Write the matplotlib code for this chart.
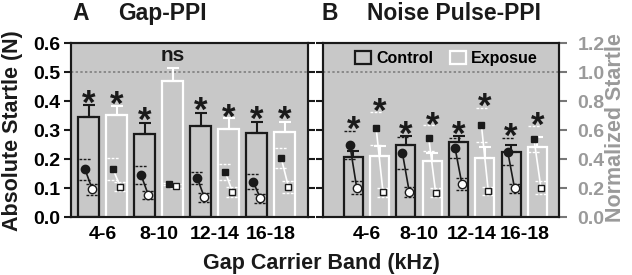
import matplotlib
matplotlib.use("Agg")
import matplotlib.pyplot as plt
import numpy as np
from matplotlib.patches import Patch

plt.rcParams["font.family"] = ["Liberation Sans", "DejaVu Sans"]
plt.rcParams["font.weight"] = "bold"

BG = "#c8c8c8"
DARK = "#1a1a1a"
GREY_TXT = "#9a9a9a"

bands = ["4-6", "8-10", "12-14", "16-18"]

# bars go control, exposure for each band
# absolute startle (N)
gap_abs = [0.347, 0.354, 0.288, 0.470, 0.314, 0.303, 0.291, 0.294]
gap_abs_err = [0.040, 0.031, 0.038, 0.046, 0.045, 0.038, 0.039, 0.036]
noise_abs = [0.209, 0.212, 0.249, 0.194, 0.259, 0.206, 0.224, 0.243]
noise_abs_err = [0.021, 0.034, 0.031, 0.029, 0.021, 0.037, 0.025, 0.033]

# normalized startle, pre (filled) and post (open) markers
gap_pre = [0.331, 0.332, 0.292, 0.230, 0.273, 0.315, 0.246, 0.411]
gap_pre_err = [0.074, 0.075, 0.060, 0.010, 0.040, 0.055, 0.050, 0.070]
gap_post = [0.193, 0.211, 0.154, 0.216, 0.138, 0.177, 0.131, 0.211]
gap_post_err = [0.040, 0.031, 0.030, 0.015, 0.030, 0.035, 0.033, 0.040]
noise_pre = [0.499, 0.614, 0.441, 0.545, 0.476, 0.636, 0.452, 0.538]
noise_pre_err = [0.095, 0.114, 0.110, 0.090, 0.070, 0.115, 0.093, 0.090]
noise_post = [0.204, 0.172, 0.172, 0.170, 0.228, 0.181, 0.200, 0.204]
noise_post_err = [0.043, 0.030, 0.035, 0.030, 0.040, 0.030, 0.030, 0.046]

gap_sig = ["*", "*", "*", "ns", "*", "*", "*", "*"]
gap_sig_y = [0.426, 0.422, 0.367, 0.556, 0.402, 0.377, 0.370, 0.370]
noise_sig = ["*"] * 8
noise_sig_y = [0.336, 0.399, 0.318, 0.349, 0.318, 0.416, 0.312, 0.349]

fig = plt.figure(figsize=(6.32, 2.75), dpi=100)
axL = fig.add_axes([71 / 632, 57.7 / 275, 237.3 / 632, 174 / 275])
axR = fig.add_axes([323.3 / 632, 57.7 / 275, 236 / 632, 174 / 275])


def panel(ax, absv, abserr, pre, pre_err, post, post_err, sig, sig_y, xlim, width):
    x = np.arange(len(absv))
    ctrl = x % 2 == 0
    cols = [DARK if c else "white" for c in ctrl]
    absv = np.array(absv)
    abserr = np.array(abserr)

    ax.set_facecolor(BG)
    ax.axhline(0.5, color="#8a8a8a", ls=(0, (1.2, 1.2)), lw=1.4, zorder=1)
    ax.bar(x, absv, width, facecolor="none", edgecolor=cols, lw=1.6, zorder=2)
    for sel, c in ((ctrl, DARK), (~ctrl, "white")):
        ax.errorbar(x[sel], absv[sel], yerr=[np.zeros(sel.sum()), abserr[sel]],
                    fmt="none", ecolor=c, elinewidth=1.5, capsize=4,
                    capthick=1.5, zorder=3)
    for i in x:
        if sig[i] == "*":
            ax.annotate("*", (i, sig_y[i]), xytext=(0, -14.5),
                        textcoords="offset points", ha="center", va="baseline",
                        fontsize=25, color=DARK)
        else:
            ax.annotate(sig[i], (i, sig_y[i]), xytext=(0, -3.8),
                        textcoords="offset points", ha="center", va="baseline",
                        fontsize=15, color=DARK)
    ax.set_xlim(*xlim)
    ax.set_ylim(0, 0.6)
    ax.set_xticks(x[::2] + 0.5)
    ax.set_xticklabels(bands)
    ax.tick_params(axis="x", length=0, labelsize=14, pad=6)
    ax.set_yticks(np.arange(0, 0.61, 0.1))
    ax.set_yticklabels([f"{v:.1f}" for v in np.arange(0, 0.61, 0.1)])
    ax.tick_params(axis="y", direction="out", length=5, width=1.5,
                   labelsize=14, pad=3, color=DARK)

    tw = ax.twinx()
    tw.set_ylim(0, 1.2)
    for i in x:
        c = cols[i]
        xa, xb = i - 0.13, i + 0.13
        tw.plot([xa, xb], [pre[i], post[i]], color=c, lw=1.2, zorder=2)
        for xx, yy, ee in ((xa, pre[i], pre_err[i]), (xb, post[i], post_err[i])):
            tw.hlines([yy - ee, yy + ee], xx - 0.22, xx + 0.22, colors=c, lw=1,
                      linestyles=(0, (2, 1)), zorder=1)
        mk = "o" if ctrl[i] else "s"
        ms = 6 if ctrl[i] else 5
        tw.plot(xa, pre[i], marker=mk, ms=ms, mfc=DARK, mec=DARK, zorder=4)
        tw.plot(xb, post[i], marker=mk, ms=ms, mfc="white", mec=DARK, mew=1,
                zorder=4)
    tw.set_yticks(np.arange(0, 1.21, 0.2))
    tw.set_yticklabels([f"{v:.1f}" for v in np.arange(0, 1.21, 0.2)])
    for a in (ax, tw):
        for s in a.spines.values():
            s.set_linewidth(1.5)
            s.set_color(DARK)
    return tw


twL = panel(axL, gap_abs, gap_abs_err, gap_pre, gap_pre_err, gap_post,
            gap_post_err, gap_sig, gap_sig_y, (-0.63, 7.84), 0.75)
twR = panel(axR, noise_abs, noise_abs_err, noise_pre, noise_pre_err, noise_post,
            noise_post_err, noise_sig, noise_sig_y, (-1.14, 7.83), 0.72)

twL.tick_params(axis="y", direction="out", length=5, width=1.5, color=DARK,
                labelright=False)
axR.tick_params(axis="y", labelleft=False)
twR.tick_params(axis="y", direction="out", length=6, width=1.5, color="#777777",
                labelsize=14, labelcolor=GREY_TXT, pad=7)

handles = [Patch(facecolor="none", edgecolor=DARK, lw=1.6, label="Control"),
           Patch(facecolor="none", edgecolor="white", lw=1.6, label="Exposue")]
twR.legend(handles=handles, ncol=2, loc="upper left",
           bbox_to_anchor=(355 / 632, 1 - 51 / 275), bbox_transform=fig.transFigure,
           frameon=False, fontsize=11.5, handlelength=1.0, handleheight=0.85,
           handletextpad=0.35, columnspacing=1.0, borderpad=0, borderaxespad=0)

fig.text(72 / 632, 1 - 20 / 275, "A", fontsize=16.5, va="baseline", color=DARK)
fig.text(118 / 632, 1 - 20 / 275, "Gap-PPI", fontsize=16.5, va="baseline", color=DARK)
fig.text(321.7 / 632, 1 - 20 / 275, "B", fontsize=16.5, va="baseline", color=DARK)
fig.text(366.7 / 632, 1 - 20 / 275, "Noise Pulse-PPI", fontsize=16.5,
         va="baseline", color=DARK)
fig.text(0.019, 0.526, "Absolute Startle (N)", rotation=90, ha="center",
         va="center", fontsize=15.5, color=DARK)
fig.text(0.974, 0.535, "Normalized Startle", rotation=90, ha="center",
         va="center", fontsize=15.5, color=GREY_TXT)
fig.text(0.5087, 0.02, "Gap Carrier Band (kHz)", ha="center", va="baseline",
         fontsize=15.5, color=DARK)

fig.savefig("out.png", dpi=100)
